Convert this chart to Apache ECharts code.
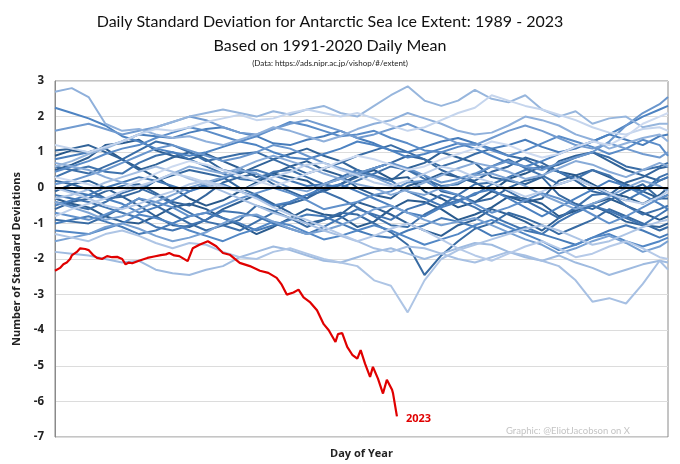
<!DOCTYPE html>
<html><head><meta charset="utf-8">
<script src="https://cdn.jsdelivr.net/npm/echarts@6/dist/echarts.min.js"></script>
<style>html,body{margin:0;padding:0;background:#fff}#c{width:680px;height:464px}</style>
</head><body><div id="c"></div>
<script>
// Day-of-year sample positions for the historical years (every 10 days + day 365)
const days = [0,10,20,30,40,50,60,70,80,90,100,110,120,130,140,150,160,170,180,190,200,210,220,230,240,250,260,270,280,290,300,310,320,330,340,350,360,365];

const y1989 = [0.9,1.05,1.0,1.1,0.8,0.55,0.3,0.0,-0.3,-0.5, -0.35,-0.1,0.15,0.4,0.3,0.2,-0.1,0.1,0.35,0.5, 0.25,0.3,-0.1,-0.3,-0.55,-0.4,-0.1,0.25,0.4,0.6, 0.45,0.35,0.1,-0.15,-0.25,-0.45,-0.2, 0.0];
const y1990 = [-0.3,-0.45,-0.55,-0.8,-0.95,-1.0,-0.8,-0.55,-0.45,-0.6, -0.85,-1.05,-1.3,-1.1,-0.85,-0.6,-0.75,-0.8,-1.1,-0.95, -0.6,-0.35,-0.4,-0.6,-0.9,-0.75,-0.55,-0.25,-0.3,-0.45, -0.8,-0.65,-0.45,-0.3,-0.5,-0.7,-0.9, -0.8];
const y1991 = [0.5,0.65,0.85,1.2,1.25,1.35,1.05,0.9,0.8,0.95, 0.75,0.55,0.3,0.4,0.6,0.75,0.5,0.35,0.0,-0.2, -0.3,0.05,0.2,0.4,0.3,0.15,-0.1,-0.25,-0.4,-0.3, 0.2,0.35,0.5,0.3,0.1,-0.1,-0.3, -0.2];
const y1992 = [-0.1,0.1,0.2,0.0,-0.25,-0.5,-0.8,-1.05,-1.1,-0.9, -0.6,-0.4,-0.2,-0.45,-0.7,-1.0,-0.9,-0.75,-0.4,-0.55, -0.75,-1.0,-1.2,-1.35,-1.05,-0.9,-0.6,-0.75,-0.95,-1.2, -0.85,-0.6,-0.5,-0.7,-0.95,-1.05,-1.1, -1.0];
const y1993 = [1.05,1.1,1.2,1.0,0.8,0.5,0.65,0.85,1.0,0.8, 0.5,0.4,0.6,0.8,0.95,1.1,0.9,0.75,0.5,0.3, 0.2,0.55,0.7,1.0,0.85,0.7,0.3,0.2,0.1,0.3, 0.75,0.9,1.0,0.75,0.5,0.35,0.2, 0.3];
const y1994 = [-0.6,-0.4,-0.3,-0.1,0.05,0.1,-0.15,-0.4,-0.5,-0.2, 0.15,0.3,0.4,0.1,-0.1,-0.3,-0.05,0.1,0.3,0.55, 0.7,0.9,0.8,0.5,0.3,0.2,0.45,0.6,0.85,0.7, 0.45,0.2,-0.1,-0.2,0.15,0.3,0.55, 0.6];
const y1995 = [0.2,0.1,-0.05,-0.3,-0.25,-0.1,0.2,0.35,0.5,0.4, 0.3,0.0,-0.2,-0.5,-0.45,-0.3,0.1,0.25,0.4,0.55, 0.7,0.5,0.35,-0.1,-0.2,-0.4,-0.3,0.0,0.2,0.3, -0.2,-0.45,-0.6,-0.35,-0.1,0.1,-0.3, -0.3];
const y1996 = [-0.9,-0.95,-1.0,-0.8,-0.55,-0.3,-0.5,-0.75,-1.0,-1.2, -1.05,-0.9,-0.5,-0.65,-0.85,-1.1,-0.9,-0.7,-0.75,-1.0, -1.25,-1.6,-2.45,-1.9,-1.5,-1.15,-1.0,-0.7,-0.85,-1.05, -1.3,-1.1,-0.9,-0.6,-0.8,-1.0,-1.2, -1.1];
const y1997 = [0.6,0.5,0.4,0.6,0.8,1.05,1.3,1.2,1.0,0.75, 0.85,0.95,1.0,0.8,0.6,0.4,0.55,0.7,0.9,1.05, 1.2,1.0,0.8,0.6,0.75,0.95,1.1,0.9,0.8,0.55, 0.65,0.85,1.0,0.85,0.6,0.5,0.6, 0.7];
const y1998 = [-0.4,-0.5,-0.6,-0.4,-0.15,0.0,-0.2,-0.45,-0.7,-0.95, -1.05,-1.2,-0.95,-0.7,-0.4,-0.2,-0.1,-0.3,-0.55,-0.8, -1.05,-1.1,-0.75,-0.5,-0.2,0.1,0.15,-0.1,-0.35,-0.6, -0.85,-0.55,-0.2,-0.15,-0.5,-0.75,-0.6, -0.5];
const y1999 = [0.3,0.5,0.6,0.45,0.4,0.7,0.9,1.0,0.8,0.6, 0.4,0.25,0.2,0.45,0.5,0.3,0.1,0.0,0.2,0.4, 0.6,0.5,0.25,0.05,0.1,0.35,0.6,0.8,0.55,0.35, 0.1,0.25,0.5,0.35,0.0,-0.1,0.3, 0.4];
const y2000 = [-0.2,-0.3,-0.4,-0.55,-0.7,-0.85,-1.1,-1.2,-1.05,-0.9, -0.65,-0.7,-0.8,-1.0,-1.15,-1.3,-1.1,-0.85,-0.6,-0.75, -0.9,-0.6,-0.45,-0.2,-0.35,-0.55,-0.8,-1.0,-1.2,-1.3, -0.95,-0.7,-0.5,-0.65,-0.85,-1.05,-0.75, -0.6];
const y2001 = [0.0,-0.1,-0.2,0.0,0.15,0.3,0.2,0.05,-0.1,0.1, 0.25,0.45,0.5,0.35,0.2,0.05,0.1,0.3,0.5,0.35, 0.2,-0.1,-0.3,-0.5,-0.35,-0.2,0.1,0.3,0.5,0.6, 0.45,0.25,0.05,-0.2,-0.35,-0.1,0.2, 0.3];
const y2002 = [-1.0,-0.9,-0.8,-0.95,-1.1,-1.3,-1.2,-1.0,-0.8,-0.7, -0.85,-1.0,-1.2,-1.05,-0.9,-0.75,-0.8,-1.0,-1.2,-1.35, -1.4,-1.2,-1.05,-0.85,-0.95,-1.1,-1.35,-1.25,-1.1,-1.3, -1.45,-1.6,-1.4,-1.2,-1.05,-1.2,-1.4, -1.3];
const y2003 = [0.8,0.9,1.0,1.15,1.3,1.5,1.45,1.4,1.55,1.65, 1.7,1.55,1.45,1.25,1.2,1.35,1.45,1.6,1.4,1.25, 1.05,1.0,1.15,1.3,1.4,1.25,1.1,1.2,1.35,1.15, 1.0,1.1,1.3,1.5,1.35,1.2,1.45, 1.5];
const y2004 = [-0.5,-0.35,-0.2,-0.3,-0.45,-0.7,-0.55,-0.35,-0.1,0.05, 0.1,-0.1,-0.25,-0.5,-0.4,-0.2,0.0,0.1,-0.1,-0.3, -0.5,-0.7,-0.8,-0.55,-0.4,-0.15,-0.05,-0.3,-0.55,-0.8, -0.55,-0.3,-0.05,0.2,0.05,-0.2,-0.45, -0.6];
const y2005 = [2.25,2.1,1.95,1.75,1.45,1.3,1.1,1.0,0.9,1.0, 1.15,1.3,1.2,1.0,0.85,0.8,0.95,1.1,1.3,1.2, 1.05,0.85,0.95,1.1,1.25,1.1,0.9,0.7,0.6,0.75, 0.95,1.15,1.3,1.5,1.75,2.0,2.2, 2.3];
const y2006 = [-1.2,-1.25,-1.3,-1.15,-1.0,-0.75,-0.85,-1.0,-1.2,-1.35, -1.5,-1.3,-1.15,-0.95,-1.05,-1.25,-1.45,-1.35,-1.2,-1.05, -1.2,-1.4,-1.6,-1.45,-1.3,-1.05,-0.9,-1.1,-1.3,-1.5, -1.75,-1.6,-1.4,-1.3,-1.5,-1.65,-1.5, -1.4];
const y2007 = [0.45,0.6,0.75,0.95,1.1,1.2,1.4,1.55,1.7,1.6, 1.45,1.3,1.45,1.65,1.85,1.75,1.6,1.45,1.5,1.6, 1.4,1.25,1.05,1.0,1.15,1.25,1.05,0.9,1.05,1.25, 1.45,1.3,1.15,0.95,1.1,1.35,1.2, 0.9];
const y2008 = [-0.7,-0.8,-0.9,-0.75,-0.55,-0.3,-0.4,-0.55,-0.8,-0.7, -0.5,-0.3,-0.15,0.0,-0.15,-0.35,-0.6,-0.5,-0.4,-0.2, -0.1,0.15,0.2,-0.05,-0.2,-0.45,-0.7,-0.55,-0.35,-0.15, -0.3,-0.5,-0.75,-1.0,-0.8,-0.55,-0.3, -0.2];
const y2009 = [0.1,0.2,0.35,0.5,0.7,0.9,1.1,1.2,1.05,0.9, 0.75,0.85,1.0,1.2,1.1,0.9,0.7,0.55,0.4,0.55, 0.7,0.55,0.35,0.15,0.25,0.4,0.6,0.75,0.6,0.5, 0.7,0.85,1.0,1.3,1.75,2.1,2.35, 2.55];
const y2010 = [1.6,1.7,1.8,1.65,1.5,1.6,1.7,1.85,2.0,1.9, 1.7,1.55,1.5,1.65,1.8,1.9,1.75,1.6,1.4,1.5, 1.65,1.8,1.6,1.45,1.25,1.2,1.4,1.6,1.75,1.6, 1.4,1.2,1.1,1.25,1.1,0.95,0.85, 1.0];
const y2011 = [-1.5,-1.4,-1.3,-1.1,-1.0,-1.15,-1.35,-1.5,-1.4,-1.25, -1.0,-0.8,-0.75,-0.95,-1.15,-1.3,-1.2,-1.05,-0.85,-0.6, -0.5,-0.7,-0.9,-1.05,-0.95,-0.85,-1.05,-1.25,-1.45,-1.6, -1.85,-1.7,-1.5,-1.35,-1.55,-1.8,-1.65, -1.5];
const y2012 = [-0.4,-0.55,-0.7,-0.9,-0.8,-0.6,-0.4,-0.2,0.0,0.15, 0.3,0.5,0.4,0.2,0.0,-0.1,0.1,0.25,0.4,0.3, 0.1,-0.1,-0.2,0.0,0.15,0.35,0.4,0.25,0.05,-0.2, -0.4,-0.6,-0.45,-0.25,0.0,0.2,0.05, -0.1];
const y2013 = [0.7,0.6,0.5,0.3,0.15,0.0,0.2,0.4,0.6,0.5, 0.4,0.55,0.75,0.9,0.75,0.6,0.4,0.25,0.1,0.0, -0.2,-0.05,0.15,0.35,0.55,0.7,0.6,0.45,0.25,0.35, 0.55,0.75,0.65,0.45,0.3,0.5,0.7, 0.6];
const y2014 = [2.7,2.8,2.55,1.8,1.6,1.65,1.5,1.4,1.45,1.3, 1.2,1.35,1.5,1.7,1.6,1.45,1.3,1.45,1.65,1.8, 1.9,2.1,1.95,1.8,1.6,1.5,1.55,1.75,2.0,1.9, 1.75,1.5,1.35,1.1,1.25,1.4,1.5, 1.3];
const y2015 = [0.6,0.75,0.95,1.1,1.3,1.5,1.7,1.85,2.0,2.1, 2.2,2.1,2.0,2.15,2.05,2.2,2.3,2.1,2.0,2.3, 2.6,2.85,2.45,2.3,2.45,2.75,2.5,2.4,2.6,2.2, 2.0,2.15,1.8,1.95,2.0,1.7,1.8, 1.8];
const y2016 = [-1.8,-1.85,-1.9,-2.0,-2.1,-2.05,-2.3,-2.4,-2.45,-2.3, -2.2,-1.95,-1.8,-1.65,-1.75,-1.9,-2.05,-2.1,-1.95,-1.8, -1.7,-1.85,-2.0,-1.85,-1.7,-1.55,-1.6,-1.8,-1.95,-2.05, -1.9,-2.1,-2.25,-2.45,-2.3,-2.15,-2.05, -2.1];
const y2017 = [-0.3,-0.2,-0.05,0.15,0.3,0.45,0.6,0.45,0.25,0.1, -0.1,-0.3,-0.5,-0.7,-0.85,-1.0,-1.2,-1.35,-1.5,-1.7, -1.8,-1.65,-1.7,-1.85,-2.0,-2.1,-1.95,-1.8,-1.9,-2.05, -2.2,-2.6,-3.2,-3.1,-3.25,-2.7,-2.05, -2.3];
const y2018 = [-1.3,-1.4,-1.5,-1.3,-1.2,-1.35,-1.55,-1.7,-1.55,-1.6, -1.8,-1.95,-2.0,-1.8,-1.7,-1.85,-2.0,-2.1,-2.2,-2.6, -2.75,-3.5,-2.6,-2.0,-1.75,-1.6,-1.45,-1.3,-1.15,-1.05, -1.2,-1.4,-1.6,-1.5,-1.3,-1.1,-0.95, -0.9];
const y2019 = [0.0,-0.15,-0.3,-0.5,-0.6,-0.45,-0.25,-0.1,0.1,0.2, 0.05,-0.1,-0.3,-0.55,-0.75,-0.9,-1.1,-1.3,-1.5,-1.35, -1.15,-1.0,-1.2,-1.45,-1.7,-1.9,-2.05,-1.85,-1.65,-1.5, -1.7,-1.95,-1.85,-1.65,-1.5,-1.7,-1.95, -2.0];
const y2020 = [-0.8,-0.6,-0.45,-0.3,-0.1,0.05,0.2,0.4,0.3,0.15, 0.0,-0.1,0.1,0.3,0.45,0.65,0.7,0.5,0.35,0.15, 0.05,0.2,0.4,0.6,0.5,0.3,0.15,-0.05,-0.25,-0.1, 0.1,0.25,0.05,-0.15,-0.35,-0.45,-0.25, -0.1];
const y2021 = [1.2,1.1,1.0,1.15,1.3,1.5,1.65,1.6,1.7,1.85, 1.95,2.05,1.9,1.95,2.1,2.2,2.1,2.0,2.1,1.95, 1.75,1.6,1.7,1.9,2.1,2.25,2.6,2.45,2.3,2.2, 2.05,1.9,1.7,1.55,1.5,1.65,1.7, 1.6];
const y2022 = [0.3,0.2,0.1,-0.05,0.0,0.2,0.4,0.6,0.75,0.65, 0.5,0.35,0.2,0.05,0.2,0.4,0.55,0.75,0.9,0.8, 0.65,0.5,0.6,0.8,0.95,1.1,1.3,1.2,1.0,0.85, 0.95,1.15,1.3,1.2,1.45,1.8,2.0, 2.1];

const pastYears = [1989,1990,1991,1992,1993,1994,1995,1996,1997,1998,1999,2000,2001,2002,2003,2004,2005,2006,2007,2008,2009,2010,2011,2012,2013,2014,2015,2016,2017,2018,2019,2020,2021,2022];
const pastValues = [y1989,y1990,y1991,y1992,y1993,y1994,y1995,y1996,y1997,y1998,y1999,y2000,y2001,y2002,y2003,y2004,y2005,y2006,y2007,y2008,y2009,y2010,y2011,y2012,y2013,y2014,y2015,y2016,y2017,y2018,y2019,y2020,y2021,y2022];

// 2023 series (day of year, standard deviations)
const days2023 = [0,3,5,7,9,10,13,15,18,20,23,25,28,31,34,37,40,42,44,46,50,55,59,63,66,68,71,74,79,82,86,91,96,100,104,110,116,122,127,132,135,138,142,145,148,152,156,160,163,167,168.5,171,174,177,180,182,184.6,187.6,189.3,192.3,195.3,197.6,200.7,201.3,203.6];
const vals2023 = [-2.33,-2.25,-2.15,-2.1,-2.0,-1.9,-1.8,-1.7,-1.72,-1.75,-1.9,-1.97,-2.0,-1.92,-1.95,-1.94,-2.0,-2.15,-2.1,-2.12,-2.05,-1.97,-1.93,-1.89,-1.87,-1.83,-1.9,-1.92,-2.06,-1.7,-1.6,-1.5,-1.64,-1.83,-1.88,-2.11,-2.2,-2.33,-2.39,-2.53,-2.72,-3.0,-2.94,-2.86,-3.08,-3.22,-3.44,-3.83,-4.0,-4.33,-4.11,-4.08,-4.47,-4.69,-4.8,-4.56,-4.94,-5.31,-5.03,-5.36,-5.78,-5.39,-5.67,-5.78,-6.42];
const yTicks = [-7,-6,-5,-4,-3,-2,-1,0,1,2,3];

function shade(i, n) {
  const stops = [[40,88,138],[78,132,196],[205,218,240]];
  const t = i / (n - 1);
  const seg = t < 0.5 ? 0 : 1;
  const u = t < 0.5 ? t / 0.5 : (t - 0.5) / 0.5;
  const a = stops[seg], b = stops[seg + 1];
  const c = a.map((v, k) => Math.round(v + (b[k] - v) * u));
  return 'rgb(' + c.join(',') + ')';
}

const series = pastValues.map((vals, i) => ({
  name: String(pastYears[i]),
  type: 'line',
  data: days.map((d, k) => [d, vals[k]]),
  showSymbol: false,
  lineStyle: { width: 2, color: shade(i, pastValues.length) },
  z: 2,
  silent: true
}));

series.push({
  name: '2023',
  type: 'line',
  data: days2023.map((d, k) => [d, vals2023[k]]),
  showSymbol: false,
  lineStyle: { width: 2.2, color: '#e00000' },
  z: 5,
  endLabel: {
    show: true,
    formatter: '2023',
    color: '#e00000',
    fontWeight: 'bold',
    fontSize: 11,
    fontFamily: 'Open Sans',
    distance: 9,
    offset: [0, 3]
  },
  markLine: {
    silent: true,
    symbol: 'none',
    label: { show: false },
    lineStyle: { color: '#000', width: 2, type: 'solid' },
    data: [{ yAxis: 0 }]
  }
});

const chart = echarts.init(document.getElementById('c'), null, { renderer: 'canvas' });
chart.setOption({
  animation: false,
  backgroundColor: '#fff',
  grid: { left: 55, right: 12, top: 81, bottom: 23, show: true, borderColor: '#8a8a8a', borderWidth: 1 },
  xAxis: {
    type: 'value', min: 0, max: 365,
    name: 'Day of Year', nameLocation: 'middle', nameGap: 11,
    nameTextStyle: { fontFamily: 'Open Sans', fontWeight: 'bold', fontSize: 11, color: '#222' },
    axisLine: { show: true, lineStyle: { color: '#6e6e6e', width: 1.5 } },
    axisTick: { show: false }, axisLabel: { show: false }, splitLine: { show: false }
  },
  yAxis: {
    type: 'value', min: yTicks[0], max: yTicks[yTicks.length - 1], interval: 1,
    name: 'Number of Standard Deviations', nameLocation: 'middle', nameGap: 30, nameRotate: 90,
    nameTextStyle: { fontFamily: 'Open Sans', fontWeight: 'bold', fontSize: 11, color: '#222' },
    axisLine: { show: true, lineStyle: { color: '#8a8a8a' } },
    axisTick: { show: false },
    axisLabel: { fontFamily: 'Open Sans', fontWeight: 'bold', fontSize: 11.5, color: '#222', margin: 11 },
    splitLine: { show: true, lineStyle: { color: '#dcdcdc', width: 1 } }
  },
  graphic: [
    { type: 'text', x: 330, y: 22, z: 10,
      style: { text: 'Daily Standard Deviation for Antarctic Sea Ice Extent: 1989 - 2023', font: '16px Lato', fill: '#111', align: 'center', verticalAlign: 'middle' } },
    { type: 'text', x: 330, y: 46, z: 10,
      style: { text: 'Based on 1991-2020 Daily Mean', font: '16px Lato', fill: '#111', align: 'center', verticalAlign: 'middle' } },
    { type: 'text', x: 330, y: 63, z: 10,
      style: { text: '(Data: https://ads.nipr.ac.jp/vishop/#/extent)', font: '8px Lato', fill: '#222', align: 'center', verticalAlign: 'middle' } },
    { type: 'text', x: 630, y: 431, z: 10,
      style: { text: 'Graphic: @EliotJacobson on X', font: '9.5px Lato', fill: '#c4c4c4', align: 'right', verticalAlign: 'middle' } }
  ],
  series: series
});
</script>
</body></html>
